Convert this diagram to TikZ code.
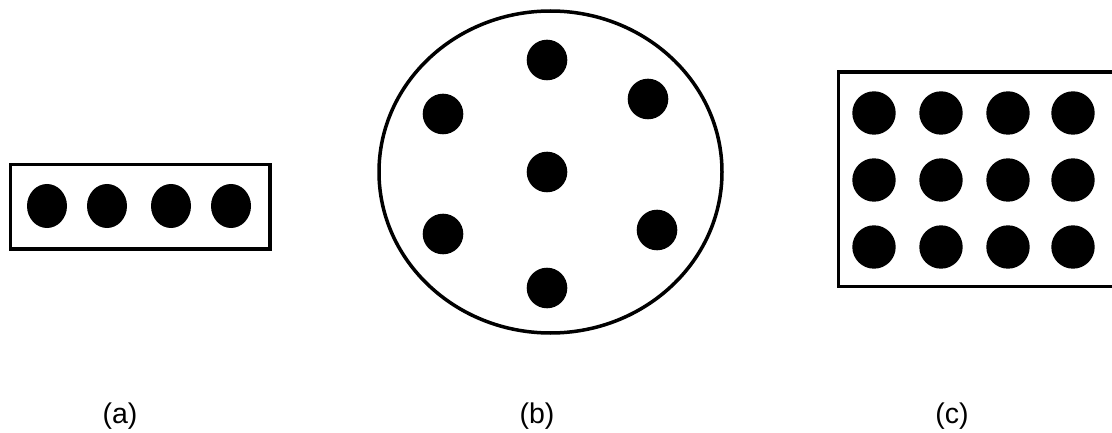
\documentclass[tikz,border=0pt]{standalone}
\usepackage{fontspec}
\setmainfont{Liberation Sans}
\usepackage{tikz}
\usetikzlibrary{positioning}

\tikzset{
  rahmen/.style={draw=black, line width=3.5pt},
  punkt/.style={fill=black},
  beschriftung/.style={font=\fontsize{28.5}{32}\selectfont, anchor=base, inner sep=0pt}
}

\begin{document}
\begin{tikzpicture}[x=1pt, y=-1pt]
      \useasboundingbox (0,0) rectangle (1112,433);

      % --- (a): schmales Rechteck mit einer Reihe ---
      \draw[rahmen] (10.5,164.5) rectangle (270,249);
      \fill[punkt] (47,206) ellipse (20 and 22);
      \fill[punkt] (107,206) ellipse (20 and 22);
      \fill[punkt] (171,206) ellipse (20 and 22);
      \fill[punkt] (231,206) ellipse (20 and 22);

      % --- (b): Ellipse mit verstreuten Punkten ---
      \draw[rahmen] (550.5,172) ellipse (171.5 and 161);
      \fill[punkt] (547,60) circle (20.3);
      \fill[punkt] (443,114) circle (20.3);
      \fill[punkt] (648,99) circle (20.3);
      \fill[punkt] (547,172) circle (20.3);
      \fill[punkt] (443,234) circle (20.3);
      \fill[punkt] (657,230) circle (20.3);
      \fill[punkt] (547,288) circle (20.3);

      % --- (c): grosses Rechteck, Gitter 4x3 ---
      \draw[rahmen] (1116,72) -- (838.5,72) -- (838.5,286.5) -- (1116,286.5);
      \fill[punkt] (874,113) circle (21.7);
      \fill[punkt] (941,113) circle (21.7);
      \fill[punkt] (1008,113) circle (21.7);
      \fill[punkt] (1073,113) circle (21.7);
      \fill[punkt] (874,180) circle (21.7);
      \fill[punkt] (941,180) circle (21.7);
      \fill[punkt] (1008,180) circle (21.7);
      \fill[punkt] (1073,180) circle (21.7);
      \fill[punkt] (874,247) circle (21.7);
      \fill[punkt] (941,247) circle (21.7);
      \fill[punkt] (1008,247) circle (21.7);
      \fill[punkt] (1073,247) circle (21.7);

      % Beschriftungen
      \node[beschriftung] (labela) at (120,423.5) {(a)};
      \node[beschriftung] (labelb) at (537,423.5) {(b)};
      \node[beschriftung] (labelc) at (952,423.5) {(c)};
    \end{tikzpicture}
\end{document}
